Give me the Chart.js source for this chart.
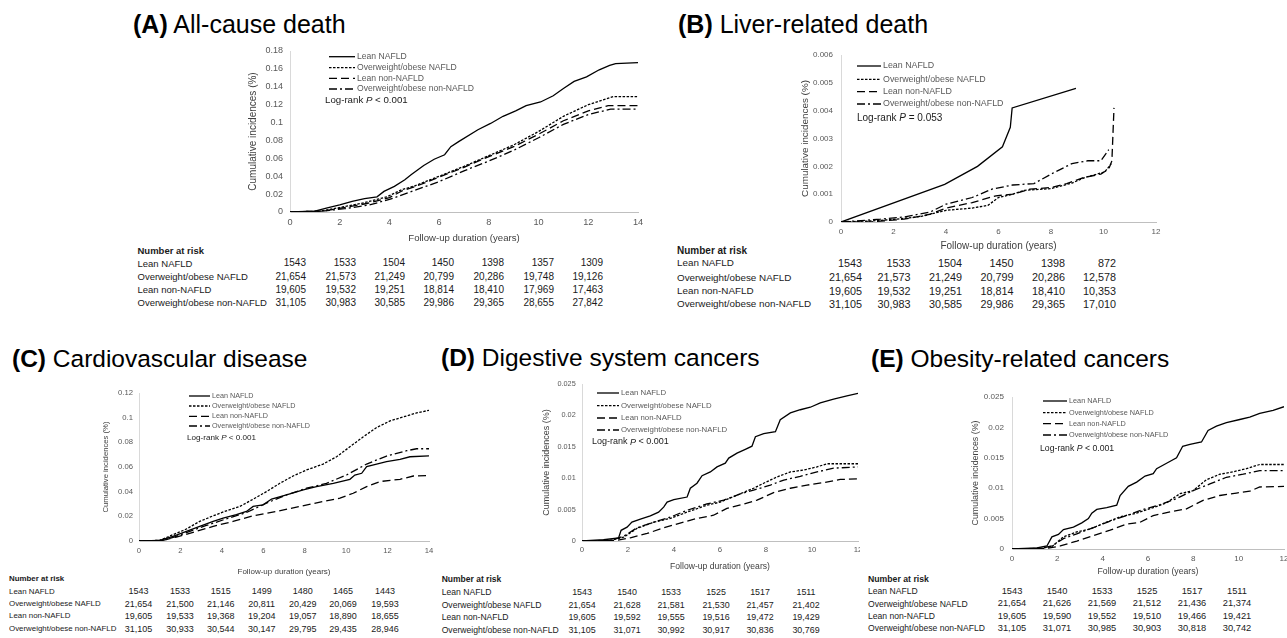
<!DOCTYPE html>
<html><head><meta charset="utf-8">
<script src="https://cdn.jsdelivr.net/npm/chart.js@4.4.1/dist/chart.umd.min.js"></script>
<style>
html,body{margin:0;padding:0;background:#fff;}
#fig{position:relative;width:1287px;height:638px;overflow:hidden;background:#fff;font-family:"Liberation Sans",Arial,sans-serif;color:#000;}
#fig canvas{position:absolute;}
.t{position:absolute;white-space:nowrap;line-height:1;}
</style></head><body><div id="fig"></div><script>
// ---------------- DATA ----------------
const SERIES_NAMES = ['Lean NAFLD','Overweight/obese NAFLD','Lean non-NAFLD','Overweight/obese non-NAFLD'];
const PANEL_LETTERS = ['(A)','(B)','(C)','(D)','(E)'];
const PANEL_TITLES = ['All-cause death','Liver-related death','Cardiovascular disease','Digestive system cancers','Obesity-related cancers'];
const LOGRANK_P = ['< 0.001','= 0.053','< 0.001','< 0.001','< 0.001'];

const X_TICKS_14 = [0,2,4,6,8,10,12,14];
const X_TICKS_12 = [0,2,4,6,8,10,12];
const Y_TICKS_A = [0,0.02,0.04,0.06,0.08,0.1,0.12,0.14,0.16,0.18];
const Y_TICKS_B = [0,0.001,0.002,0.003,0.004,0.005,0.006];
const Y_TICKS_C = [0,0.02,0.04,0.06,0.08,0.1,0.12];
const Y_TICKS_DE = [0,0.005,0.01,0.015,0.02,0.025];

// (A) All-cause death  [years, cumulative incidence]
const A_LEAN_NAFLD = [[0,0],[1.0,0.001],[1.5,0.0045],[2.0,0.008],[2.5,0.012],[3.0,0.015],[3.5,0.017],[3.78,0.023],[4.2,0.0286],[4.62,0.036],[4.87,0.0417],[5.38,0.052],[5.8,0.059],[6.22,0.064],[6.47,0.073],[6.8,0.079],[7.56,0.092],[8.07,0.099],[8.57,0.107],[9.08,0.113],[9.5,0.119],[10.08,0.123],[10.59,0.13],[11.0,0.138],[11.43,0.146],[11.93,0.151],[12.44,0.159],[12.86,0.164],[13.1,0.166],[14,0.167]];
const A_OW_NAFLD = [[0,0],[1.2,0.001],[2.0,0.005],[3.0,0.0105],[3.9,0.017],[4.5,0.025],[5.0,0.029],[6.0,0.04],[7.0,0.051],[8.0,0.063],[9.0,0.075],[10.0,0.09],[11.0,0.107],[12.0,0.12],[13.0,0.129],[14,0.129]];
const A_LEAN_NON = [[0,0],[1.3,0.001],[2.1,0.0045],[3.1,0.0095],[4.0,0.016],[4.5,0.0235],[5.0,0.028],[6.0,0.039],[7.0,0.05],[8.0,0.062],[9.0,0.073],[10.0,0.087],[11.0,0.102],[12.0,0.113],[12.8,0.119],[14,0.119]];
const A_OW_NON = [[0,0],[1.3,0.001],[2.2,0.0037],[3.2,0.008],[4.0,0.014],[5.0,0.024],[6.0,0.034],[7.0,0.046],[8.0,0.057],[9.0,0.069],[10.0,0.083],[11.0,0.098],[12.0,0.109],[12.9,0.115],[14,0.115]];

// (B) Liver-related death
const B_LEAN_NAFLD = [[0,0],[3.95,0.00135],[5.2,0.002],[6.15,0.0027],[6.45,0.0034],[6.52,0.0041],[8.95,0.0048]];
const B_OW_NAFLD = [[0,0],[1.2,0.00004],[2.1,0.0001],[3.06,0.0002],[4.0,0.00042],[5.0,0.0005],[5.6,0.0006],[6.0,0.00088],[6.55,0.001],[7.0,0.00114],[8.0,0.0012],[8.8,0.0014],[9.3,0.0016],[10.05,0.0018],[10.3,0.0021]];
const B_LEAN_NON = [[0,0],[1.2,0.00001],[2.4,0.0001],[3.4,0.00028],[4.0,0.0005],[5.0,0.0007],[5.9,0.00094],[6.55,0.001],[7.2,0.00118],[8.0,0.00124],[8.6,0.00138],[9.25,0.0016],[9.9,0.00172],[10.2,0.0019],[10.32,0.0022],[10.4,0.0041]];
const B_OW_NON = [[0,0],[1.5,0.0001],[2.4,0.00018],[3.4,0.00036],[4.0,0.00064],[5.0,0.00088],[5.75,0.00118],[6.55,0.00133],[7.35,0.00138],[8.0,0.00172],[8.8,0.0021],[9.4,0.0022],[9.9,0.0022],[10.2,0.0026]];

// (C) Cardiovascular disease
const C_LEAN_NAFLD = [[0,0],[1.0,0.0005],[1.64,0.0038],[2.29,0.0078],[2.93,0.0118],[3.58,0.0159],[4.06,0.0186],[4.7,0.0213],[5.19,0.024],[5.51,0.028],[5.99,0.0293],[6.4,0.034],[7.12,0.0374],[7.93,0.0414],[8.57,0.044],[9.38,0.0468],[10.18,0.05],[10.42,0.0535],[10.75,0.0549],[10.99,0.0603],[11.47,0.0624],[11.95,0.0643],[12.6,0.0662],[13.08,0.0683],[14,0.0691]];
const C_OW_NAFLD = [[0,0],[1.0,0.0005],[1.64,0.0051],[2.29,0.0097],[2.93,0.0159],[3.58,0.0204],[4.22,0.0245],[4.87,0.028],[5.51,0.0339],[6.15,0.04],[6.8,0.0468],[7.44,0.0527],[8.09,0.0576],[8.89,0.0624],[9.54,0.0683],[10.18,0.0764],[10.83,0.0845],[11.47,0.092],[12.12,0.0974],[12.76,0.1006],[13.4,0.1038],[14,0.106]];
const C_LEAN_NON = [[0,0],[1.16,0.0005],[1.8,0.0032],[2.61,0.007],[3.58,0.0118],[4.54,0.0159],[5.51,0.0204],[6.64,0.024],[7.77,0.028],[8.89,0.032],[9.7,0.0347],[10.34,0.0387],[10.99,0.0441],[11.63,0.0482],[12.6,0.05],[13.24,0.0527],[14,0.053]];
const C_OW_NON = [[0,0],[1.16,0.0005],[1.8,0.0038],[2.45,0.0078],[3.25,0.0126],[4.22,0.018],[5.19,0.0231],[6.15,0.0307],[7.12,0.0374],[8.09,0.0428],[9.05,0.0468],[10.02,0.0535],[10.99,0.0624],[11.95,0.0689],[12.92,0.0732],[13.4,0.0748],[14,0.0748]];

// (D) Digestive system cancers
const D_LEAN_NAFLD = [[0,0],[0.94,0.0002],[1.59,0.0005],[1.7,0.0017],[1.96,0.0022],[2.17,0.003],[2.54,0.0035],[2.97,0.004],[3.33,0.0046],[3.55,0.0054],[3.7,0.0062],[3.99,0.0066],[4.57,0.007],[4.71,0.0084],[5.0,0.0092],[5.22,0.0104],[5.58,0.011],[5.87,0.0118],[6.23,0.0124],[6.38,0.0132],[6.74,0.014],[7.1,0.0146],[7.39,0.0151],[7.54,0.0166],[7.9,0.0171],[8.41,0.0174],[8.62,0.0193],[9.06,0.0204],[9.49,0.0209],[9.93,0.0213],[10.36,0.022],[10.94,0.0226],[11.52,0.0231],[12,0.0235]];
const D_OW_NAFLD = [[0,0],[1.23,0.0001],[1.81,0.0006],[2.39,0.002],[3.12,0.003],[3.84,0.0036],[4.57,0.0046],[5.43,0.0057],[6.01,0.0062],[6.74,0.0073],[7.46,0.0084],[7.9,0.0092],[8.48,0.0102],[9.06,0.011],[9.64,0.0113],[10.22,0.0118],[10.65,0.0123],[12,0.0123]];
const D_LEAN_NON = [[0,0],[1.52,0.0001],[2.1,0.0005],[2.83,0.0012],[3.55,0.0021],[4.42,0.003],[5.0,0.0036],[5.72,0.0041],[6.3,0.0052],[7.03,0.0059],[7.61,0.0065],[8.33,0.0077],[9.06,0.0084],[9.78,0.0089],[10.51,0.0093],[11.23,0.0098],[12,0.0099]];
const D_OW_NON = [[0,0],[1.23,0.0001],[1.81,0.00075],[2.39,0.0021],[3.12,0.003],[3.84,0.0038],[4.57,0.0049],[5.43,0.0059],[6.16,0.0065],[6.88,0.0075],[7.46,0.0081],[8.19,0.0089],[8.77,0.0097],[9.49,0.0103],[10.22,0.011],[10.94,0.0116],[12,0.0118]];

// (E) Obesity-related cancers
const E_LEAN_NAFLD = [[0,0],[1.1,0.0002],[1.54,0.0005],[1.76,0.002],[2.05,0.0024],[2.27,0.0032],[2.71,0.0036],[3.08,0.0043],[3.37,0.005],[3.52,0.0059],[3.74,0.0065],[4.18,0.0068],[4.62,0.0072],[4.77,0.0088],[5.13,0.0103],[5.5,0.011],[5.87,0.012],[6.23,0.0124],[6.38,0.0132],[6.82,0.0141],[7.26,0.015],[7.53,0.0169],[7.85,0.0172],[8.36,0.0176],[8.65,0.0195],[9.02,0.0202],[9.46,0.0208],[10.05,0.0213],[10.49,0.0217],[10.93,0.0223],[11.52,0.0228],[12,0.0234]];
const E_OW_NAFLD = [[0,0],[1.25,0.0001],[1.76,0.0004],[2.27,0.002],[2.86,0.0028],[3.45,0.0033],[4.03,0.0042],[4.77,0.0053],[5.5,0.0059],[6.23,0.0068],[6.82,0.0076],[7.41,0.0091],[7.99,0.0096],[8.58,0.0114],[9.17,0.0123],[9.75,0.0127],[10.34,0.0132],[10.93,0.0139],[12,0.0139]];
const E_LEAN_NON = [[0,0],[1.54,0.0001],[2.13,0.0005],[2.86,0.0013],[3.59,0.0022],[4.33,0.0031],[5.06,0.0041],[5.65,0.0044],[6.23,0.0055],[6.97,0.0061],[7.7,0.0066],[8.43,0.008],[9.17,0.0088],[9.9,0.0092],[10.49,0.0095],[10.93,0.0102],[12,0.0103]];
const E_OW_NON = [[0,0],[1.25,0.0001],[1.76,0.0005],[2.27,0.0017],[2.86,0.0025],[3.59,0.0035],[4.33,0.0046],[5.06,0.0055],[5.79,0.0065],[6.53,0.0073],[7.26,0.0083],[7.99,0.0096],[8.73,0.0107],[9.46,0.0118],[10.2,0.0123],[10.93,0.0129],[12,0.0129]];

// Number at risk
const RISK_A = [['1543','1533','1504','1450','1398','1357','1309'],['21,654','21,573','21,249','20,799','20,286','19,748','19,126'],['19,605','19,532','19,251','18,814','18,410','17,969','17,463'],['31,105','30,983','30,585','29,986','29,365','28,655','27,842']];
const RISK_B = [['1543','1533','1504','1450','1398','872'],['21,654','21,573','21,249','20,799','20,286','12,578'],['19,605','19,532','19,251','18,814','18,410','10,353'],['31,105','30,983','30,585','29,986','29,365','17,010']];
const RISK_C = [['1543','1533','1515','1499','1480','1465','1443'],['21,654','21,500','21,146','20,811','20,429','20,069','19,593'],['19,605','19,533','19,368','19,204','19,057','18,890','18,655'],['31,105','30,933','30,544','30,147','29,795','29,435','28,946']];
const RISK_D = [['1543','1540','1533','1525','1517','1511'],['21,654','21,628','21,581','21,530','21,457','21,402'],['19,605','19,592','19,555','19,516','19,472','19,429'],['31,105','31,071','30,992','30,917','30,836','30,769']];
const RISK_E = [['1543','1540','1533','1525','1517','1511'],['21,654','21,626','21,569','21,512','21,436','21,374'],['19,605','19,590','19,552','19,510','19,466','19,421'],['31,105','31,071','30,985','30,903','30,818','30,742']];

// ---------------- STYLE / LAYOUT ----------------
const FONT = '"Liberation Sans", Arial, Helvetica, sans-serif';
const DASHES = [[], [2.5,1.5], [8,4], [8,3,2,3]];
const LINE_W = 1.3;

const PANELS = [
  {series:[A_LEAN_NAFLD,A_OW_NAFLD,A_LEAN_NON,A_OW_NON], xTicks:X_TICKS_14, yTicks:Y_TICKS_A, risk:RISK_A,
   canvas:[247,40,650,244], plot:[290,51,638,212],
   ytfs:9, xtfs:9.2, ytPad:7, xtPad:4.5, yttl:10, xttl:9.6,
   title:{x:133, cy:24.5, fs:25},
   leg:{x0:329, x1:355, tx:357, rows:[56.7,67.7,78.3,89], lx:325, ly:100, fs:8.6, lfs:9.7},
   tab:{hx:137.5, hy:250.7, hfs:9.5, rows:[263.3,276.7,290,302.7], lfs:9.5, nfs:10, cols:[306,356,405,454,504,554,603], align:'right'}},
  {series:[B_LEAN_NAFLD,B_OW_NAFLD,B_LEAN_NON,B_OW_NON], xTicks:X_TICKS_12, yTicks:Y_TICKS_B, risk:RISK_B,
   canvas:[799,44,1176,252], plot:[841,55,1156,222],
   ytfs:8, xtfs:8, ytPad:8, xtPad:5, yttl:9.9, xttl:10,
   title:{x:678, cy:24.5, fs:25},
   leg:{x0:857, x1:881, tx:883, rows:[66,79.3,91.7,104], lx:857, ly:118, fs:8.85, lfs:10},
   tab:{hx:677, hy:250.7, hfs:10, rows:[263.3,277.5,291,304], lfs:9.85, nfs:10.8, cols:[862,910.5,962,1013.5,1065,1116], align:'right'}},
  {series:[C_LEAN_NAFLD,C_OW_NAFLD,C_LEAN_NON,C_OW_NON], xTicks:X_TICKS_14, yTicks:Y_TICKS_C, risk:RISK_C,
   canvas:[101,385,437,577], plot:[139,393,429,541],
   ytfs:7.7, xtfs:7.7, ytPad:6, xtPad:5, yttl:7.7, xttl:8,
   title:{x:12, cy:359, fs:24.5},
   leg:{x0:189, x1:210, tx:212, rows:[396,406,416.3,426], lx:187, ly:437.7, fs:7.2, lfs:8.1},
   tab:{hx:9, hy:578.7, hfs:7.9, rows:[591.7,604,616.3,629], lfs:7.9, nfs:9, cols:[138.5,180,220.7,261.7,302.7,343,385], align:'center', clip:108}},
  {series:[D_LEAN_NAFLD,D_OW_NAFLD,D_LEAN_NON,D_OW_NON], xTicks:X_TICKS_12, yTicks:Y_TICKS_DE, risk:RISK_D,
   canvas:[541,376,860,572], plot:[582,384,858,541],
   ytfs:7.3, xtfs:7.8, ytPad:6.3, xtPad:3.8, yttl:9, xttl:8.6,
   title:{x:441, cy:358, fs:24.5},
   leg:{x0:597, x1:619, tx:621, rows:[393,405.7,418,430], lx:592, ly:442, fs:7.8, lfs:9},
   tab:{hx:441.7, hy:579, hfs:8.5, rows:[592,605,617,630], lfs:8.6, nfs:8.9, cols:[582,627,671,716,760,806], align:'center'}},
  {series:[E_LEAN_NAFLD,E_OW_NAFLD,E_LEAN_NON,E_OW_NON], xTicks:X_TICKS_12, yTicks:Y_TICKS_DE, risk:RISK_E,
   canvas:[970,389,1287,577], plot:[1012,397,1284,549],
   ytfs:8.1, xtfs:8.1, ytPad:8, xtPad:4.9, yttl:8.9, xttl:8.7,
   title:{x:871, cy:359, fs:24.5},
   leg:{x0:1043, x1:1067, tx:1069, rows:[401,412.7,423.7,435], lx:1040, ly:448.3, fs:7.3, lfs:8.7},
   tab:{hx:868, hy:579, hfs:8.7, rows:[591.7,604,616.3,628.7], lfs:8.6, nfs:9.3, cols:[1012,1057,1102,1147,1192,1237], align:'center'}}
];

const fig = document.getElementById('fig');

function addText(txt, x, cy, fs, opts) {
  const d = document.createElement('div');
  d.className = 't';
  d.style.fontSize = fs + 'px';
  d.style.top = (cy - fs / 2) + 'px';
  const o = opts || {};
  if (o.align === 'right') { d.style.left = (x - 120) + 'px'; d.style.width = '120px'; d.style.textAlign = 'right'; }
  else if (o.align === 'center') { d.style.left = (x - 60) + 'px'; d.style.width = '120px'; d.style.textAlign = 'center'; }
  else { d.style.left = x + 'px'; }
  if (o.clip) { d.style.width = o.clip + 'px'; d.style.overflow = 'hidden'; }
  if (o.bold) d.style.fontWeight = 'bold';
  if (o.color) d.style.color = o.color;
  if (o.html) d.innerHTML = txt; else d.textContent = txt;
  fig.appendChild(d);
  return d;
}

const kmLegend = {
  id: 'kmLegend',
  afterDatasetsDraw(chart, args, o) {
    const ctx = chart.ctx;
    const cl = o.cl, ct = o.ct;
    ctx.save();
    chart.data.datasets.forEach((ds, i) => {
      const y = o.rows[i] - ct;
      ctx.beginPath();
      ctx.setLineDash(DASHES[i]);
      ctx.lineWidth = LINE_W;
      ctx.strokeStyle = '#000';
      ctx.moveTo(o.x0 - cl, y);
      ctx.lineTo(o.x1 - cl, y);
      ctx.stroke();
      ctx.setLineDash([]);
      ctx.fillStyle = '#595959';
      ctx.font = o.fs + 'px ' + FONT;
      ctx.textBaseline = 'middle';
      ctx.textAlign = 'left';
      ctx.fillText(ds.label, o.tx - cl, y);
    });
    // log-rank text
    let x = o.lx - cl;
    const y = o.ly - ct;
    ctx.fillStyle = '#1a1a1a';
    ctx.textBaseline = 'middle';
    ctx.font = o.lfs + 'px ' + FONT;
    ctx.fillText('Log-rank ', x, y);
    x += ctx.measureText('Log-rank ').width;
    ctx.font = 'italic ' + o.lfs + 'px ' + FONT;
    ctx.fillText('P', x, y);
    x += ctx.measureText('P').width;
    ctx.font = o.lfs + 'px ' + FONT;
    ctx.fillText(' ' + o.p, x, y);
    ctx.restore();
  }
};

PANELS.forEach((p, idx) => {
  // title
  addText('<b>' + PANEL_LETTERS[idx] + '</b> ' + PANEL_TITLES[idx], p.title.x, p.title.cy, p.title.fs, {html:true});

  // chart canvas
  const [cL, cT, cR, cB] = p.canvas;
  const [pL, pT, pR, pB] = p.plot;
  const cv = document.createElement('canvas');
  cv.width = cR - cL; cv.height = cB - cT;
  cv.style.left = cL + 'px'; cv.style.top = cT + 'px';
  cv.style.width = (cR - cL) + 'px'; cv.style.height = (cB - cT) + 'px';
  fig.appendChild(cv);

  const yAxisW = pL - cL, xAxisH = cB - pB, padTop = pT - cT, padRight = cR - pR;
  const xs = p.xTicks, ys = p.yTicks;

  new Chart(cv.getContext('2d'), {
    type: 'line',
    data: {
      datasets: p.series.map((pts, i) => ({
        label: SERIES_NAMES[i],
        data: pts.map(([x, y]) => ({x, y})),
        borderColor: '#000',
        borderWidth: LINE_W,
        borderDash: DASHES[i],
        pointRadius: 0,
        pointHoverRadius: 0,
        fill: false,
        tension: 0
      }))
    },
    options: {
      responsive: false,
      animation: false,
      devicePixelRatio: 1,
      events: [],
      layout: { padding: { top: padTop, right: padRight, left: 0, bottom: 0 } },
      plugins: {
        legend: { display: false },
        tooltip: { enabled: false },
        kmLegend: Object.assign({ cl: cL, ct: cT, p: LOGRANK_P[idx] }, p.leg)
      },
      scales: {
        x: {
          type: 'linear', min: xs[0], max: xs[xs.length - 1],
          afterBuildTicks: s => { s.ticks = xs.map(v => ({value: v})); },
          afterFit: s => { s.height = xAxisH; s.paddingLeft = 0; s.paddingRight = 0; },
          ticks: { color: '#595959', font: {size: p.xtfs, family: FONT}, padding: p.xtPad, maxRotation: 0, autoSkip: false, callback: v => String(v) },
          grid: { display: true, drawOnChartArea: false, drawTicks: false },
          border: { display: true, color: '#bfbfbf', width: 1 },
          title: { display: true, text: 'Follow-up duration (years)', color: '#404040', font: {size: p.xttl, family: FONT}, padding: 0 }
        },
        y: {
          type: 'linear', min: ys[0], max: ys[ys.length - 1],
          afterBuildTicks: s => { s.ticks = ys.map(v => ({value: v})); },
          afterFit: s => { s.width = yAxisW; s.paddingTop = 0; s.paddingBottom = 0; },
          ticks: { color: '#595959', font: {size: p.ytfs, family: FONT}, padding: p.ytPad, autoSkip: false, callback: v => String(v) },
          grid: { display: true, drawOnChartArea: false, drawTicks: false },
          border: { display: true, color: '#d9d9d9', width: 1 },
          title: { display: true, text: 'Cumulative incidences (%)', color: '#404040', font: {size: p.yttl, family: FONT}, padding: 0 }
        }
      }
    },
    plugins: [kmLegend]
  });

  // Number at risk table
  const t = p.tab;
  addText('Number at risk', t.hx, t.hy, t.hfs, {bold: true, color: '#1a1a1a'});
  SERIES_NAMES.forEach((name, r) => {
    addText(name, t.hx, t.rows[r], t.lfs, {clip: t.clip, color: '#1a1a1a'});
    p.risk[r].forEach((val, c) => {
      addText(val, t.cols[c], t.rows[r], t.nfs, {align: t.align, color: '#1a1a1a'});
    });
  });
});
</script></body></html>
